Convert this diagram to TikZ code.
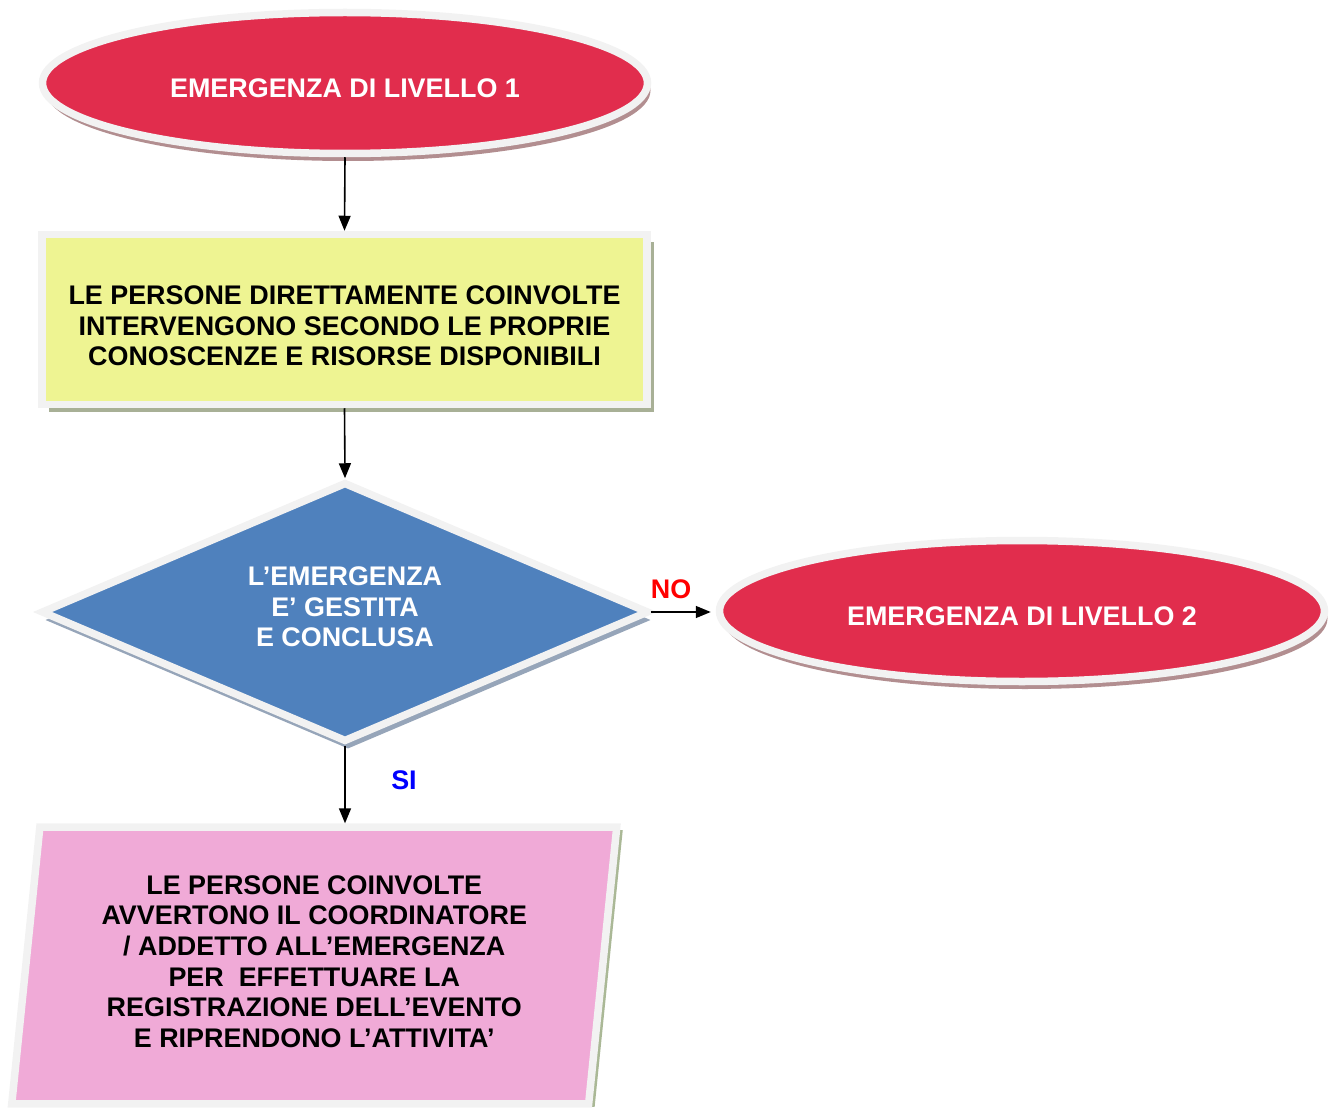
\documentclass[tikz,border=0pt]{standalone}
\usepackage{fontspec}
\setmainfont{Liberation Sans}
\usetikzlibrary{shapes.geometric,shadows,arrows.meta}

\definecolor{alarm}{RGB}{225,45,77}
\definecolor{rimgray}{RGB}{242,242,242}
\definecolor{actyellow}{RGB}{238,244,146}
\definecolor{checkblue}{RGB}{79,129,189}
\definecolor{reportpink}{RGB}{240,170,215}
\definecolor{ovalshade}{RGB}{178,142,144}
\definecolor{panelshade}{RGB}{168,176,150}
\definecolor{checkshade}{RGB}{150,165,185}
\definecolor{reportshade}{RGB}{170,184,150}

% invisible struts that move a text block inside its node
\newcommand{\pushdown}[1]{\rule{0pt}{#1}}
\newcommand{\pushup}[1]{\rule[-#1]{0pt}{#1}}

\begin{document}
\begin{tikzpicture}[x=1pt,y=-1pt,
  every node/.style={font=\fontsize{26.9}{30.6}\selectfont\bfseries,
    align=center, inner sep=0pt},
  rim/.style={draw=rimgray, line width=7.5pt},
  oval/.style={ellipse, rim, fill=alarm, text=white,
    minimum width=605pt, minimum height=141pt, text height=29pt,
    drop shadow={shadow xshift=3pt, shadow yshift=-7.5pt,
      fill=ovalshade, opacity=1}},
  panel/.style={rectangle, rim, fill=actyellow,
    minimum width=605pt, minimum height=170pt,
    drop shadow={shadow xshift=7pt, shadow yshift=-7.5pt,
      fill=panelshade, opacity=1}},
  decision/.style={diamond, aspect=2.3, rim, fill=checkblue, text=white,
    minimum width=608pt, minimum height=260pt,
    drop shadow={shadow xshift=3pt, shadow yshift=-8pt,
      fill=checkshade, opacity=1}},
  report/.style={trapezium, rim, fill=reportpink,
    trapezium left angle=84.2, trapezium right angle=95.8,
    trapezium stretches body, inner ysep=48.5pt,
    minimum width=605pt,
    drop shadow={shadow xshift=6pt, shadow yshift=-3pt,
      fill=reportshade, opacity=1}},
  flow/.style={-{Triangle[length=15pt,width=12pt]}, line width=1.6pt}
]
\useasboundingbox (0,0) rectangle (1331,1110);

% shapes of the flow chart
\node[oval] (lvl1) at (345,83) {EMERGENZA DI LIVELLO 1};
\node[panel] (act) at (344.5,319.5)
  {\pushdown{31.5pt}LE PERSONE DIRETTAMENTE COINVOLTE\\
   INTERVENGONO SECONDO LE PROPRIE\\
   CONOSCENZE E RISORSE DISPONIBILI};
\node[decision] (chk) at (345,612)
  {L’EMERGENZA\\ E’ GESTITA\\ E CONCLUSA\pushup{10pt}};
\node[oval] (lvl2) at (1022,611) {EMERGENZA DI LIVELLO 2};
\node[report] (rep) at (314.25,965.5)
  {LE PERSONE COINVOLTE\\
   AVVERTONO IL COORDINATORE\\
   / ADDETTO ALL’EMERGENZA\\
   PER~ EFFETTUARE LA\\
   REGISTRAZIONE DELL’EVENTO\\
   E RIPRENDONO L’ATTIVITA’\pushup{8pt}};

% answer labels
\node[text=red] (no) at (671,589) {NO};
\node[text=blue] (si) at (404,780) {SI};

% connectors
\draw[flow] (lvl1.south) -- (act.north);
\draw[flow] (act.south) -- (chk.north);
\draw[flow, shorten <=-2pt, shorten >=5pt] (chk.east) -- (chk.east -| lvl2.west);
\draw[flow] (chk.south) -- (chk.south |- rep.north);
\end{tikzpicture}
\end{document}
